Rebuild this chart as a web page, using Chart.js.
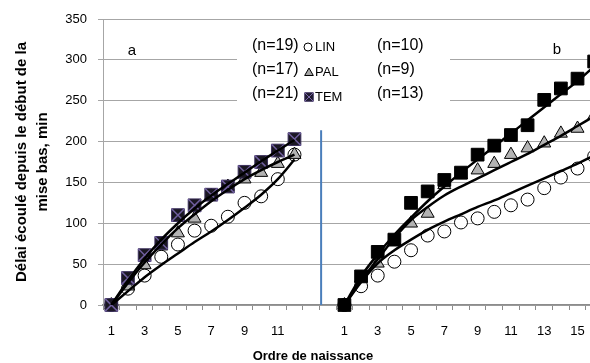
<!DOCTYPE html>
<html><head><meta charset="utf-8">
<script src="https://cdn.jsdelivr.net/npm/chart.js@4.4.0/dist/chart.umd.min.js"></script>
<style>html,body{margin:0;padding:0;overflow:hidden;background:#fff;width:590px;height:363px}canvas{display:block}</style>
</head><body>
<canvas id="c" width="613" height="363" style="width:613px;height:363px"></canvas>
<script>
// ---- categories ----
const catA = ['1','2','3','4','5','6','7','8','9','10','11','12'];
const gapCats = ['', ''];
const catB = ['1','2','3','4','5','6','7','8','9','10','11','12','13','14','15','16'];

// ---- panel a (observed) ----
const linA = [0,20,36,59,74,91,97,108,125,133,154,184];
const palA = [0,23,49,72,88,106,134,145,154,162,173,184];
const temA = [0,33,61,76,110,122,135,145,163,175,189,203];
// ---- panel b (observed) ----
const linB = [0,23,36,53,67,85,90,101,106,114,122,129,143,156,167,182];
const palB = [0,33,51,78,100,112,147,159,165,173,184,192,198,210,216,232];
const temB = [0,35,65,80,125,139,153,162,184,195,208,220,251,265,277,298];

// ---- trend lines ----
const linTrendA = [0,17,34,49,63,77,90,104,119,135,154,178];
const palTrendA = [0,27,52,74,94,111,127,141,154,165,175,184];
const temTrendA = [0,30,57,80,100,118,134,148,162,176,189,202];
const linTrendB = [0,28,51,67,80,92,102,111,120,128,137,146,155,164,173,183];
const palTrendB = [0,30,56,82,104,120,134,145,155,165,175,185,196,207,219,231];
const temTrendB = [0,35,62,86,107,127,145,162,178,194,210,226,242,258,274,292];

// ---- texts ----
const seriesNames = ['LIN','PAL','TEM'];
const nA = ['(n=19)','(n=17)','(n=21)'];
const nB = ['(n=10)','(n=9)','(n=13)'];
const panelLabels = ['a','b'];
const xTitle = 'Ordre de naissance';
const yTitle = ['Délai écoulé depuis le début de la','mise bas, min'];
const yMin = 0, yMax = 350, yStep = 50;
const sepPos = 12.6, sepTop = 214;

const labels = [...catA, ...gapCats, ...catB];
const join = (a, b) => [...a, ...gapCats.map(() => null), ...b];
const onlyA = (a) => [...a, ...gapCats.map(() => null), ...catB.map(() => null)];
const FONT = '"Liberation Sans", Arial, sans-serif';

const annot = {
  id: 'annot',
  beforeDatasetsDraw(chart) {
    const ctx = chart.ctx;
    ctx.save();
    ctx.fillStyle = '#fff';
    ctx.fillRect(237, 24, 213, 96);
    ctx.restore();
  },
  afterDraw(chart) {
    const ctx = chart.ctx;
    const H = Chart.helpers;
    ctx.save();
    ctx.fillStyle = '#000';
    ctx.textBaseline = 'middle';
    ctx.textAlign = 'left';
    const rows = [46, 70, 94];
    for (let i = 0; i < 3; i++) {
      ctx.font = '16px ' + FONT;
      ctx.fillStyle = '#000';
      ctx.fillText(nA[i], 252, rows[i]);
      ctx.fillText(nB[i], 377, rows[i]);
      ctx.font = '13px ' + FONT;
      ctx.fillText(seriesNames[i], 315, rows[i] + 1 + i);
    }
    // icons
    ctx.lineWidth = 1;
    ctx.strokeStyle = '#000'; ctx.fillStyle = '#fff';
    H.drawPoint(ctx, {pointStyle: 'circle', radius: 4, borderWidth: 1}, 308, 47);
    ctx.fillStyle = '#a6a6a6';
    H.drawPoint(ctx, {pointStyle: 'triangle', radius: 5, borderWidth: 1}, 309, 73);
    ctx.fillStyle = '#1f1a2e'; ctx.strokeStyle = '#3b2f5c';
    H.drawPoint(ctx, {pointStyle: 'rect', radius: 6, borderWidth: 1}, 309, 97);
    ctx.strokeStyle = '#7a68a8';
    H.drawPoint(ctx, {pointStyle: 'crossRot', radius: 6, borderWidth: 1}, 309, 97);
    // panel labels
    ctx.fillStyle = '#000';
    ctx.font = '15px ' + FONT;
    ctx.textAlign = 'center';
    ctx.fillText(panelLabels[0], 132, 51);
    ctx.fillText(panelLabels[1], 557, 50);
    // x title
    ctx.font = 'bold 13px ' + FONT;
    ctx.fillText(xTitle, 313, 356);
    ctx.restore();
  }
};

const trend = (data, order) => ({
  data, borderColor: '#000', borderWidth: 2.5, pointRadius: 0,
  cubicInterpolationMode: 'monotone', order, fill: false
});

new Chart(document.getElementById('c'), {
  type: 'line',
  data: {
    labels,
    datasets: [
      trend(join(linTrendA, linTrendB), 0),
      trend(join(palTrendA, palTrendB), 1),
      trend(join(temTrendA, temTrendB), 2),
      { data: onlyA(temA), showLine: false, pointStyle: 'crossRot', pointRadius: 9,
        pointBorderColor: '#6f5e9e', pointBorderWidth: 1.5, order: 3, clip: false },
      { data: join(temA, temB), showLine: false, pointStyle: 'rect', pointRadius: 9,
        pointBackgroundColor: (c) => c.dataIndex < catA.length ? '#1a1722' : '#000',
        pointBorderColor: (c) => c.dataIndex < catA.length ? '#3b2f5c' : '#000',
        pointBorderWidth: 1, order: 4, clip: false },
      { data: join(palA, palB), showLine: false, pointStyle: 'triangle', pointRadius: 7.5,
        pointBackgroundColor: '#b3b3b3', pointBorderColor: '#000', pointBorderWidth: 1, order: 5, clip: false },
      { data: join(linA, linB), showLine: false, pointStyle: 'circle', pointRadius: 6.5,
        pointBackgroundColor: '#fff', pointBorderColor: '#000', pointBorderWidth: 1, order: 6, clip: false },
      { data: [{x: sepPos, y: 0}, {x: sepPos, y: sepTop}], xAxisID: 'xs', borderColor: '#4a7ebb',
        borderWidth: 2, pointRadius: 0, order: 7 }
    ]
  },
  options: {
    responsive: false, animation: false, devicePixelRatio: 1, events: [],
    layout: { padding: { top: 19, right: 2, left: 0, bottom: 0 } },
    plugins: { legend: { display: false }, tooltip: { enabled: false } },
    scales: {
      x: {
        type: 'category', offset: true,
        grid: { offset: true, drawOnChartArea: false, drawTicks: true, tickLength: 5, color: '#8c8c8c' },
        border: { color: '#8c8c8c', width: 1.5 },
        ticks: { autoSkip: false, maxRotation: 0, minRotation: 0, padding: 14, color: '#000',
          font: { family: FONT, size: 13 },
          callback(v, i) { return i % 2 === 0 ? this.getLabelForValue(v) : ''; } },
        afterFit(s) { s.height = 58; s.paddingLeft = 0; s.paddingRight = 0; }
      },
      xs: { type: 'linear', display: false, min: -0.5, max: labels.length - 0.5 },
      y: {
        min: yMin, max: yMax,
        ticks: { stepSize: yStep, padding: 11, color: '#000', font: { family: FONT, size: 13 } },
        grid: { color: '#a6a6a6', tickLength: 5 },
        border: { color: '#a6a6a6' },
        title: { display: true, text: yTitle, color: '#000',
          font: { family: FONT, size: 15, weight: 'bold', lineHeight: 1.4 }, padding: { top: 11.5, bottom: 0 } },
        afterFit(s) { s.width = 103; }
      }
    }
  },
  plugins: [annot]
});
</script>
</body></html>
